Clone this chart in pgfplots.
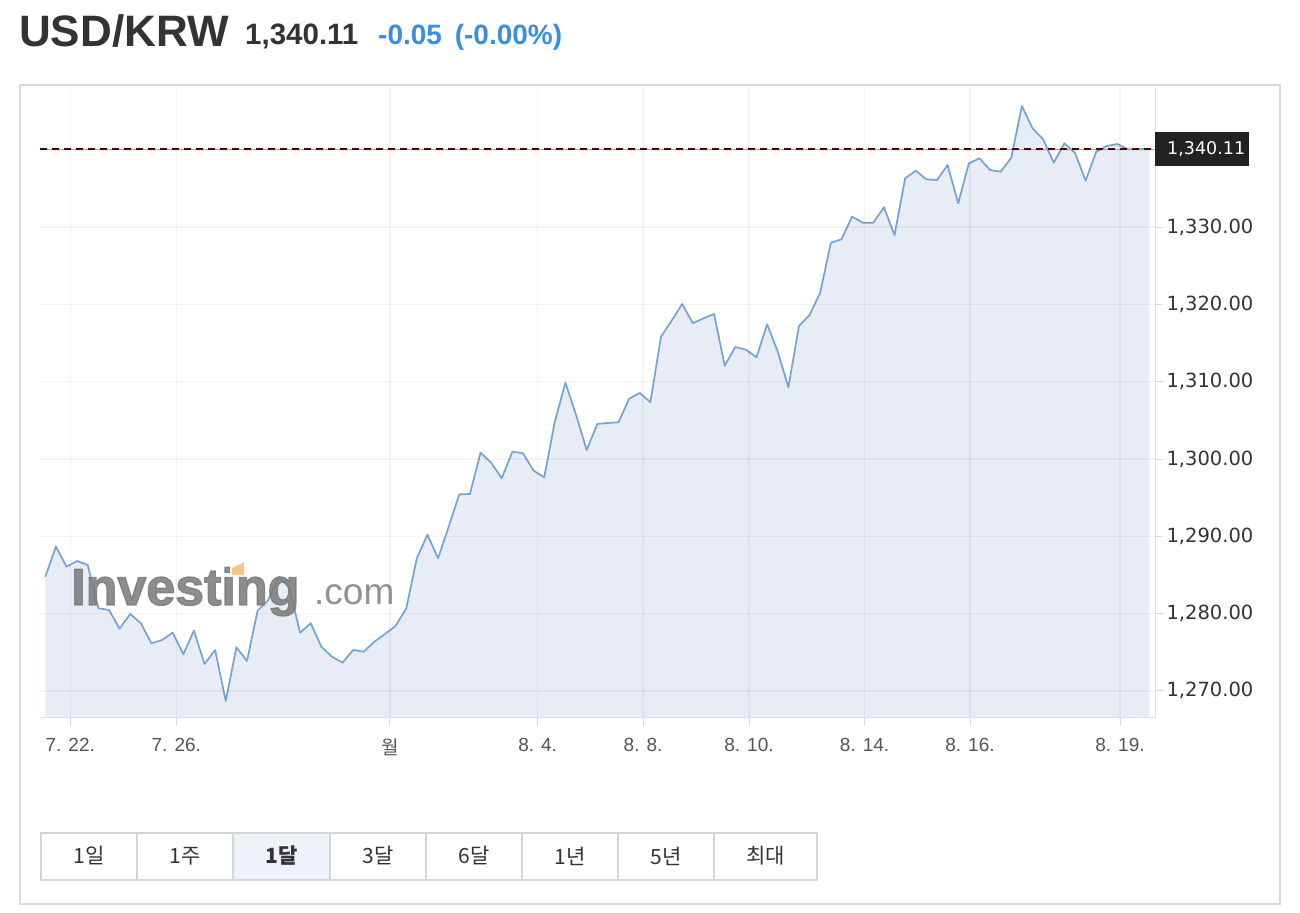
\documentclass[border=0pt]{standalone}
\usepackage{fontspec}
\setmainfont{Liberation Sans}
\newfontfamily\dejavu{DejaVu Sans}
\newfontfamily\cjk{Noto Sans CJK KR}
\newfontfamily\wmfont[FakeBold=2.5]{Liberation Sans Bold}
\usepackage{pgfplots}
\usepackage{pgfplotstable}
\pgfplotsset{compat=1.18}
\definecolor{linec}{HTML}{74A3D4}
\definecolor{fillc}{HTML}{E8EDF5}
\definecolor{textc}{HTML}{333333}
\definecolor{tickc}{HTML}{555555}
\definecolor{bluec}{HTML}{3B8DE0}
\definecolor{btnc}{HTML}{D5D5D5}
\definecolor{btnsel}{HTML}{EEF3FA}
\definecolor{boxc}{HTML}{222222}
\definecolor{wmorange}{HTML}{F5C68A}

\pgfplotstableread{
i v
0 1284.77
1 1288.65
2 1286.07
3 1286.80
4 1286.29
5 1280.69
6 1280.47
7 1278.05
8 1279.95
9 1278.75
10 1276.16
11 1276.58
12 1277.53
13 1274.73
14 1277.79
15 1273.48
16 1275.29
17 1268.69
18 1275.64
19 1273.87
20 1280.38
21 1281.76
22 1284.77
23 1283.27
24 1277.53
25 1278.75
26 1275.72
27 1274.42
28 1273.65
29 1275.29
30 1275.07
31 1276.36
32 1277.36
33 1278.40
34 1280.66
35 1287.15
36 1290.21
37 1287.15
38 1291.24
39 1295.43
40 1295.47
41 1300.82
42 1299.52
43 1297.50
44 1300.94
45 1300.74
46 1298.49
47 1297.63
48 1304.83
49 1309.87
50 1305.69
51 1301.16
52 1304.53
53 1304.66
54 1304.75
55 1307.80
56 1308.54
57 1307.35
58 1315.82
59 1317.89
60 1320.05
61 1317.56
62 1318.20
63 1318.76
64 1312.07
65 1314.49
66 1314.14
67 1313.16
68 1317.43
69 1313.88
70 1309.28
71 1317.21
72 1318.63
73 1321.51
74 1327.98
75 1328.42
76 1331.35
77 1330.57
78 1330.57
79 1332.56
80 1328.98
81 1336.31
82 1337.30
83 1336.18
84 1336.09
85 1338.03
86 1333.08
87 1338.25
88 1338.90
89 1337.39
90 1337.17
91 1338.98
92 1345.67
93 1342.78
94 1341.36
95 1338.33
96 1340.84
97 1339.62
98 1336.00
99 1339.75
100 1340.49
101 1340.75
102 1340.06
103 1340.11
104 1340.11
}\usdkrw

\begin{document}
\begin{tikzpicture}[x=1bp,y=1bp]
\useasboundingbox (0,0) rectangle (1300,912);
\fill[white] (0,0) rectangle (1300,912);
% card
\draw[draw=gray!30, line width=1.5bp] (20,827) rectangle (1280,8);
% header
\node[anchor=base west, inner sep=0, text=textc, font=\bfseries\fontsize{44bp}{50bp}\selectfont] at (19,865) {USD/KRW};
\node[anchor=base west, inner sep=0, text=textc, font=\bfseries\fontsize{29.5bp}{32bp}\selectfont] at (245,867) {1,340.11};
\node[anchor=base west, inner sep=0, text=bluec, font=\bfseries\fontsize{28bp}{32bp}\selectfont] at (378,867) {-0.05\hspace{5bp} (-0.00\%)};

\begin{axis}[
  at={(40bp,194bp)}, anchor=south west,
  scale only axis, width=1115bp, height=630bp,
  xmin=-0.5, xmax=104.54,
  ymin=1266.49, ymax=1348.0,
  axis x line*=bottom, axis y line*=right,
  axis line style={draw=gray!25, line width=1bp},
  tick align=outside, major tick length=8bp,
  tick style={draw=gray!30, line width=0.8bp},
  xtick={2.35,12.34,32.46,46.38,56.31,66.29,77.18,87.11,101.24},
  xticklabels={7. 22.,7. 26.,{\cjk 월},8. 4.,8. 8.,8. 10.,8. 14.,8. 16.,8. 19.},
  xticklabel style={font=\fontsize{19bp}{21bp}\selectfont, text=tickc, yshift=-9bp},
  ytick={1270,1280,1290,1300,1310,1320,1330,1340},
  yticklabels={{1,270.00},{1,280.00},{1,290.00},{1,300.00},{1,310.00},{1,320.00},{1,330.00},{}},
  yticklabel style={font=\dejavu\fontsize{19.5bp}{22bp}\selectfont, text=textc, anchor=west, xshift=0bp},
  xmajorgrids, ymajorgrids,
  major grid style={draw=black, opacity=0.045, line width=1.5bp},
  axis on top,
  clip=true,
]
\addplot[fill=fillc, draw=none] table[x=i, y=v] {\usdkrw} \closedcycle;
\addplot[color=linec, line width=1.7bp, line join=round] table[x=i, y=v] {\usdkrw};
\addplot[color=red!45, line width=0.6bp] coordinates {(-0.5,1340.11) (104.54,1340.11)};
\addplot[color=black!70!red, line width=1.2bp, dash pattern=on 7bp off 5bp] coordinates {(-0.5,1340.11) (104.54,1340.11)};
\coordinate (lastp) at (axis cs:104.54,1340.11);
\end{axis}

% last price box
\node[anchor=west, fill=boxc, inner sep=0, minimum width=94bp, minimum height=34bp] at (lastp) {};
\node[anchor=west, text=white, inner sep=0, font=\dejavu\fontsize{17.5bp}{20bp}\selectfont] at ([xshift=12bp]lastp) {1,340.11};

% watermark
\node[anchor=base west, inner sep=0, text=black!52, opacity=0.85, font=\wmfont\fontsize{52bp}{56bp}\selectfont] at (71,307) {Investing};
\fill[white] (230,336) rectangle (246,352);
\fill[wmorange] (232,337) -- (244,337) -- (244,350) -- (232,344) -- cycle;
\node[anchor=base west, inner sep=0, text=black!50, opacity=0.85, font=\fontsize{37bp}{40bp}\selectfont] at (314,307) {.com};

% buttons
\fill[btnsel] (233,79) rectangle (330,32);
\foreach \a/\b/\t in {41/137/1일,137/233/1주,330/426/3달,426/522/6달,522/618/1년,618/714/5년,714/817/최대}{
  \node[text=textc, font=\cjk\fontsize{21bp}{24bp}\selectfont] at ({(\a+\b)/2},56) {\t};
}
\node[text=textc, font=\cjk\bfseries\fontsize{21bp}{24bp}\selectfont] at (281.5,56) {1달};
\draw[btnc, line width=2bp] (41,79) rectangle (817,32);
\foreach \xx in {137,233,330,426,522,618,714}{
  \draw[btnc, line width=2bp] (\xx,79) -- (\xx,32);
}
\end{tikzpicture}
\end{document}
